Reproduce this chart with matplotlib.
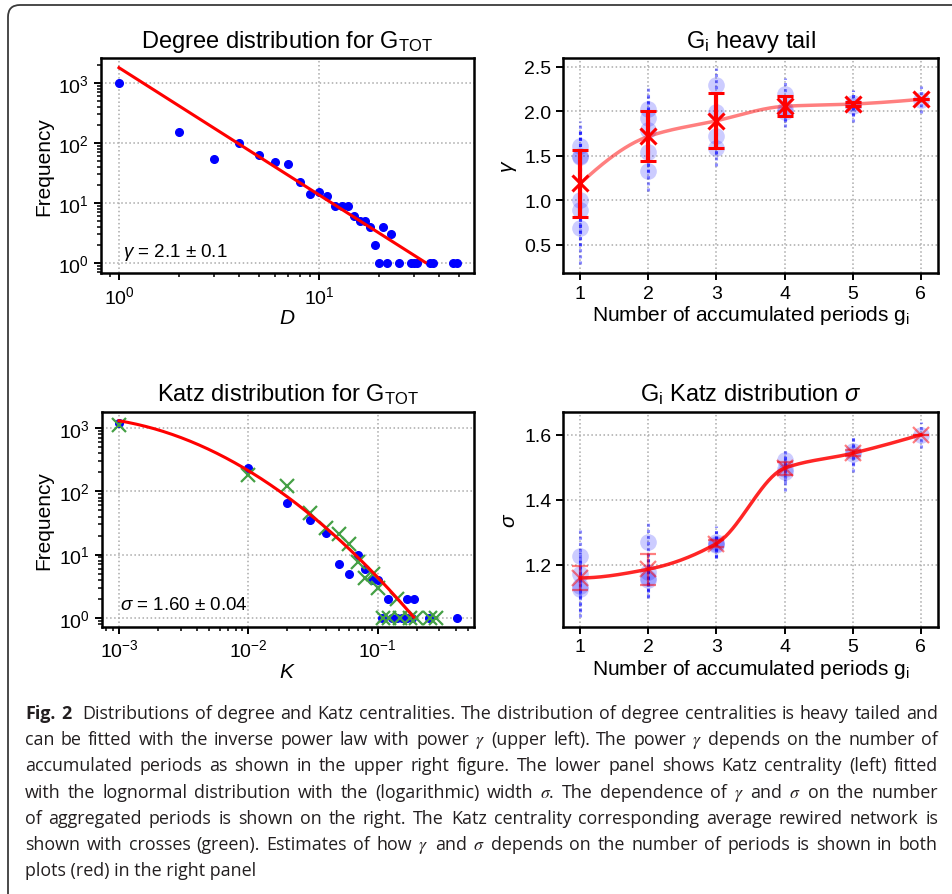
import numpy as np
import matplotlib
matplotlib.use("Agg")
import matplotlib.pyplot as plt
from matplotlib.patches import FancyBboxPatch
from matplotlib.transforms import IdentityTransform

# --- upper left: degree distribution of G_TOT
deg_D = [1, 2, 3, 4, 5, 6, 7, 8, 9, 10, 11, 12, 13, 14, 15, 16, 17, 18, 19, 20,
         21, 22, 23, 25, 29, 30, 31, 36, 37, 47, 49]
deg_freq = [1000, 152, 55, 101, 63, 49, 44, 22, 14, 15, 13, 9, 9, 9, 6, 5, 5, 4, 2, 1,
            4, 1, 3, 1, 1, 1, 1, 1, 1, 1, 1]
deg_fit_amp = 1800
deg_gamma = 2.12
deg_fit_range = [1, 34]

# --- lower left: Katz distribution of G_TOT (blue) and rewired network (green)
katz_K = [0.001, 0.01, 0.02, 0.03, 0.04, 0.05, 0.06, 0.07, 0.08, 0.09, 0.10, 0.109,
          0.12, 0.128, 0.14, 0.153, 0.168, 0.169, 0.183, 0.191, 0.251, 0.409]
katz_freq = [1200, 235, 65, 35, 22, 7, 5, 10, 6, 4, 4, 1,
             2, 1, 1, 1, 1, 2, 1, 2, 1, 1]
rew_K = [0.001, 0.01, 0.02, 0.03, 0.04, 0.05, 0.06, 0.07, 0.08, 0.092, 0.10, 0.111,
         0.123, 0.14, 0.149, 0.178, 0.198, 0.254, 0.283]
rew_freq = [1150, 182, 121, 45, 26, 21, 14.5, 7.6, 4.2, 4.9, 3.0, 1,
            1, 2, 1, 1, 1, 1, 1]
lgn_amp = 2.3
lgn_mu = -5.22
lgn_sigma = 1.6
lgn_range = [0.001, 0.19]

# --- upper right: gamma vs number of accumulated periods
gam_g = [1, 1, 1, 1, 1, 1, 2, 2, 2, 2, 2, 3, 3, 3, 3, 4, 4, 4, 5, 5, 6]
gam_vals = [1.61, 1.50, 1.49, 1.00, 0.89, 0.69, 2.02, 1.92, 1.79, 1.54, 1.33,
            2.30, 1.99, 1.72, 1.59, 2.19, 2.03, 1.99, 2.09, 2.06, 2.13]
gam_errs = [0.28, 0.30, 0.30, 0.35, 0.40, 0.40, 0.28, 0.25, 0.25, 0.22, 0.22,
            0.18, 0.20, 0.20, 0.20, 0.18, 0.15, 0.17, 0.14, 0.18, 0.15]
gam_mean_g = [1, 2, 3, 4, 5, 6]
gam_mean = [1.19, 1.718, 1.894, 2.056, 2.081, 2.134]
gam_mean_err = [0.38, 0.28, 0.31, 0.11, 0.02, 0.0]

# --- lower right: sigma vs number of accumulated periods
sig_g = [1, 1, 1, 1, 2, 2, 2, 2, 3, 3, 3, 4, 4, 4, 5, 5, 6]
sig_vals = [1.228, 1.17, 1.135, 1.125, 1.27, 1.176, 1.158, 1.154,
            1.27, 1.265, 1.26, 1.522, 1.494, 1.484, 1.551, 1.54, 1.60]
sig_errs = [0.08, 0.07, 0.08, 0.087, 0.065, 0.06, 0.06, 0.055,
            0.05, 0.04, 0.04, 0.036, 0.04, 0.056, 0.045, 0.056, 0.04]
sig_mean_g = [1, 2, 3, 4, 5, 6]
sig_mean = [1.159, 1.186, 1.265, 1.497, 1.543, 1.600]
sig_mean_err = [0.037, 0.048, 0.01, 0.02, 0.01, 0.0]

caption_lines = [
    "Fig. 2  Distributions of degree and Katz centralities. The distribution of degree centralities is heavy tailed and",
    "can be fitted with the inverse power law with power $\\gamma$ (upper left). The power $\\gamma$ depends on the number of",
    "accumulated periods as shown in the upper right figure. The lower panel shows Katz centrality (left) fitted",
    "with the lognormal distribution with the (logarithmic) width $\\sigma$. The dependence of $\\gamma$ and $\\sigma$ on the number",
    "of aggregated periods is shown on the right. The Katz centrality corresponding average rewired network is",
    "shown with crosses (green). Estimates of how $\\gamma$ and $\\sigma$ depends on the number of periods is shown in both",
    "plots (red) in the right panel",
]


def pchip(x, y, xs):
    # monotone cubic through the means, used for the red guide curves
    x = np.asarray(x, float)
    y = np.asarray(y, float)
    h = np.diff(x)
    d = np.diff(y) / h
    m = np.zeros_like(y)
    for k in range(1, len(x) - 1):
        if d[k - 1] * d[k] > 0:
            w1 = 2 * h[k] + h[k - 1]
            w2 = h[k] + 2 * h[k - 1]
            m[k] = (w1 + w2) / (w1 / d[k - 1] + w2 / d[k])
    m[0] = ((2 * h[0] + h[1]) * d[0] - h[0] * d[1]) / (h[0] + h[1])
    if np.sign(m[0]) != np.sign(d[0]):
        m[0] = 0
    m[-1] = ((2 * h[-1] + h[-2]) * d[-1] - h[-1] * d[-2]) / (h[-1] + h[-2])
    if np.sign(m[-1]) != np.sign(d[-1]):
        m[-1] = 0
    i = np.clip(np.searchsorted(x, xs) - 1, 0, len(x) - 2)
    t = (xs - x[i]) / h[i]
    return ((2 * t**3 - 3 * t**2 + 1) * y[i] + (t**3 - 2 * t**2 + t) * h[i] * m[i]
            + (-2 * t**3 + 3 * t**2) * y[i + 1] + (t**3 - t**2) * h[i] * m[i + 1])


plt.rcParams["font.family"] = ["Liberation Sans", "DejaVu Sans"]
plt.rcParams["mathtext.fontset"] = "custom"
plt.rcParams["mathtext.rm"] = "Liberation Sans"
plt.rcParams["mathtext.it"] = "Liberation Sans:italic"
plt.rcParams["mathtext.bf"] = "Liberation Sans:bold"
plt.rcParams["font.size"] = 14
plt.rcParams["axes.linewidth"] = 1.8
plt.rcParams["xtick.major.size"] = 5
plt.rcParams["ytick.major.size"] = 5
plt.rcParams["xtick.major.width"] = 1.4
plt.rcParams["ytick.major.width"] = 1.4
plt.rcParams["xtick.minor.size"] = 3
plt.rcParams["ytick.minor.size"] = 3
plt.rcParams["xtick.minor.width"] = 1.1
plt.rcParams["ytick.minor.width"] = 1.1
plt.rcParams["xtick.labelsize"] = 14
plt.rcParams["ytick.labelsize"] = 14

BLUE = "#0000ff"
RED = "#ff0000"
GREEN = "#45a045"
grid_kw = dict(color="#aaaaaa", linestyle=":", linewidth=1.1)
TITLE = 17
LABEL = 15

fig = plt.figure(figsize=(9.52, 8.95), dpi=100)
ax1 = fig.add_axes([0.1061, 0.6939, 0.3918, 0.2398])
ax2 = fig.add_axes([0.5917, 0.6939, 0.3933, 0.2398])
ax3 = fig.add_axes([0.1068, 0.2987, 0.3911, 0.2402])
ax4 = fig.add_axes([0.5917, 0.2987, 0.3933, 0.2402])

# upper left
ax1.plot(deg_D, deg_freq, "o", color=BLUE, ms=5.5, zorder=3)
Dfit = np.linspace(deg_fit_range[0], deg_fit_range[1], 200)
ax1.plot(Dfit, deg_fit_amp * Dfit ** (-deg_gamma), color=RED, lw=2.2, zorder=4)
ax1.set_xscale("log")
ax1.set_yscale("log")
ax1.set_xlim(0.813, 59.6)
ax1.set_ylim(0.68, 2580)
ax1.grid(True, **grid_kw)
ax1.set_title("Degree distribution for G$_{\\mathrm{TOT}}$", fontsize=TITLE, pad=8)
ax1.set_xlabel("$D$", fontsize=LABEL, labelpad=1)
ax1.set_ylabel("Frequency", fontsize=LABEL)
ax1.text(0.058, 0.08, "$\\gamma$ = 2.1 \u00b1 0.1", transform=ax1.transAxes, fontsize=13.5)

# lower left
ax3.plot(katz_K, katz_freq, "o", color=BLUE, ms=5.5, zorder=3)
ax3.plot(rew_K, rew_freq, "x", color=GREEN, ms=10, mew=1.6, zorder=4)
Kfit = np.logspace(np.log10(lgn_range[0]), np.log10(lgn_range[1]), 200)
lgn = lgn_amp / Kfit * np.exp(-(np.log(Kfit) - lgn_mu) ** 2 / (2 * lgn_sigma ** 2))
ax3.plot(Kfit, lgn, color=RED, lw=2.2, zorder=5)
ax3.set_xscale("log")
ax3.set_yscale("log")
ax3.set_xlim(7.35e-4, 0.556)
ax3.set_ylim(0.72, 1837)
ax3.grid(True, **grid_kw)
ax3.set_title("Katz distribution for G$_{\\mathrm{TOT}}$", fontsize=TITLE, pad=8)
ax3.set_xlabel("$K$", fontsize=LABEL, labelpad=1)
ax3.set_ylabel("Frequency", fontsize=LABEL)
ax3.text(0.049, 0.082, "$\\sigma$ = 1.60 \u00b1 0.04", transform=ax3.transAxes, fontsize=13.5)

# upper right
eb = ax2.errorbar(gam_g, gam_vals, yerr=gam_errs, fmt="o", color=BLUE, ms=12,
                  alpha=0.2, elinewidth=2.2, mew=0, zorder=2)
eb[2][0].set_linestyle((0, (1, 1)))
eb[2][0].set_alpha(0.45)
gx = np.linspace(1, 6, 200)
ax2.plot(gx, pchip(gam_mean_g, gam_mean, gx), color=RED, alpha=0.5, lw=2.5, zorder=3)
ax2.errorbar(gam_mean_g, gam_mean, yerr=gam_mean_err, fmt="x", color=RED, ms=11,
             mew=2.2, elinewidth=3, capsize=6, capthick=2.2, zorder=4)
ax2.set_xlim(0.75, 6.25)
ax2.set_ylim(0.186, 2.594)
ax2.set_xticks([1, 2, 3, 4, 5, 6])
ax2.set_yticks([0.5, 1.0, 1.5, 2.0, 2.5])
ax2.grid(True, **grid_kw)
ax2.set_title("G$_{\\mathrm{i}}$ heavy tail", fontsize=TITLE, pad=8)
ax2.set_xlabel("Number of accumulated periods g$_{\\mathrm{i}}$", fontsize=LABEL, labelpad=1)
ax2.set_ylabel("$\\gamma$", fontsize=LABEL)

# lower right
eb = ax4.errorbar(sig_g, sig_vals, yerr=sig_errs, fmt="o", color=BLUE, ms=12,
                  alpha=0.2, elinewidth=2.2, mew=0, zorder=2)
eb[2][0].set_linestyle((0, (1, 1)))
eb[2][0].set_alpha(0.45)
ax4.plot(gx, pchip(sig_mean_g, sig_mean, gx), color=RED, alpha=0.85, lw=2.5, zorder=3)
ax4.errorbar(sig_mean_g, sig_mean, yerr=sig_mean_err, fmt="x", color=RED, ms=11,
             mew=1.6, elinewidth=1.6, capsize=6, capthick=1.6, alpha=0.5, zorder=4)
ax4.set_xlim(0.75, 6.25)
ax4.set_ylim(1.009, 1.671)
ax4.set_xticks([1, 2, 3, 4, 5, 6])
ax4.set_yticks([1.2, 1.4, 1.6])
ax4.grid(True, **grid_kw)
ax4.set_title("G$_{\\mathrm{i}}$ Katz distribution $\\sigma$", fontsize=TITLE, pad=8)
ax4.set_xlabel("Number of accumulated periods g$_{\\mathrm{i}}$", fontsize=LABEL, labelpad=1)
ax4.set_ylabel("$\\sigma$", fontsize=LABEL)

# frame of the figure box (runs off the right and bottom edges)
box = FancyBboxPatch((8, -40), 1000, 895 - 6 + 40, boxstyle="round,pad=0,rounding_size=12",
                     transform=IdentityTransform(), fill=False, ec="#3a3a3a", lw=1.3)
fig.add_artist(box)

# caption, justified word by word
cap_left, cap_right = 25, 938
cap_base = [719, 745, 771, 798, 824, 850, 876]
cap_kw = dict(family="Open Sans", fontsize=12.9, color="#231f20", va="baseline",
              transform=IdentityTransform(), math_fontfamily="stix")
renderer = fig.canvas.get_renderer()
for i, line in enumerate(caption_lines):
    y = 895 - cap_base[i]
    if i == len(caption_lines) - 1:
        fig.text(cap_left, y, line, **cap_kw)
        continue
    words = line.split(" ")
    arts = []
    for j, w in enumerate(words):
        weight = "bold" if (i == 0 and j < 2) else "normal"
        arts.append(fig.text(cap_left, y, w, fontweight=weight, **cap_kw))
    widths = [a.get_window_extent(renderer).width if w else 0 for a, w in zip(arts, words)]
    gap = (cap_right - cap_left - sum(widths)) / (len(words) - 1)
    x = cap_left
    for a, wd in zip(arts, widths):
        a.set_x(x)
        x += wd + gap

fig.savefig("out.png", dpi=100)
